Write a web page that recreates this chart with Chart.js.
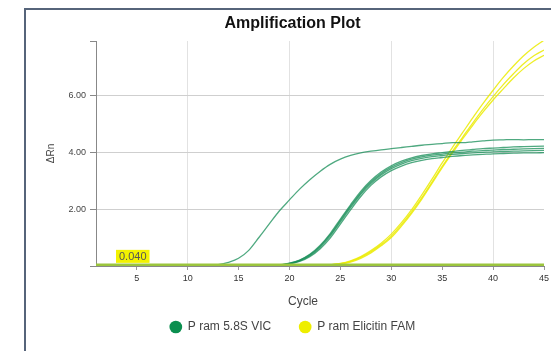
<!DOCTYPE html>
<html>
<head>
<meta charset="utf-8">
<script src="https://cdn.jsdelivr.net/npm/chart.js@4.4.0/dist/chart.umd.min.js"></script>
<style>
  html, body { margin: 0; padding: 0; background: #fff; overflow: hidden; }
  #frame { position: absolute; left: 24px; top: 8px; width: 600px; height: 400px;
           border-left: 2px solid #56647a; border-top: 2px solid #56647a; }
  #wrap { position: absolute; left: 0; top: 0; width: 540px; height: 341px; }
</style>
</head>
<body>
<div id="frame"><div id="wrap"><canvas id="chart"></canvas></div></div>
<script>
// cycles on the x axis
const cycles = [1, 2, 3, 4, 5, 6, 7, 8, 9, 10, 11, 12, 13, 14, 15, 16, 17, 18, 19, 20,
  21, 22, 23, 24, 25, 26, 27, 28, 29, 30, 31, 32, 33, 34, 35, 36, 37, 38, 39, 40,
  41, 42, 43, 44, 45];

// P ram 5.8S VIC wells
const vicEarly = [0.01, 0.01, 0.00, 0.01, 0.01, 0.00, 0.01, 0.01, 0.01, 0.01, 0.01,
  0.02, 0.05, 0.13, 0.27, 0.55, 1.00, 1.47, 1.93, 2.32, 2.70, 3.03,
  3.32, 3.57, 3.75, 3.88, 3.97, 4.03, 4.08, 4.12, 4.16, 4.20, 4.24,
  4.27, 4.30, 4.33, 4.33, 4.36, 4.39, 4.42, 4.43, 4.44, 4.43, 4.44, 4.44];
const vicMain1 = [0.01, 0.01, 0.01, 0.00, 0.01, 0.01, 0.01, 0.00, 0.01, 0.01, 0.01, 0.01, 0.01, 0.01, 0.01, 0.01, 0.02, 0.02,
  0.04, 0.10, 0.21, 0.41, 0.72, 1.14, 1.65, 2.15, 2.62, 3.00, 3.30, 3.52, 3.68, 3.80, 3.88, 3.94,
  3.98, 4.02, 4.06, 4.09, 4.12, 4.14, 4.16, 4.18, 4.19, 4.20, 4.21];
const vicMain2 = [0.01, 0.00, 0.01, 0.01, 0.01, 0.00, 0.01, 0.01, 0.01, 0.01, 0.00, 0.01, 0.01, 0.01, 0.01, 0.01, 0.01, 0.02,
  0.03, 0.09, 0.20, 0.39, 0.69, 1.10, 1.60, 2.10, 2.57, 2.95, 3.25, 3.47, 3.63, 3.75, 3.83, 3.89,
  3.93, 3.97, 4.00, 4.03, 4.05, 4.07, 4.09, 4.10, 4.11, 4.12, 4.13];
const vicMain3 = [0.00, 0.01, 0.01, 0.01, 0.00, 0.01, 0.01, 0.01, 0.00, 0.01, 0.01, 0.01, 0.01, 0.00, 0.01, 0.01, 0.01, 0.01,
  0.03, 0.08, 0.18, 0.36, 0.65, 1.05, 1.55, 2.05, 2.52, 2.90, 3.20, 3.42, 3.58, 3.70, 3.78, 3.84,
  3.88, 3.92, 3.95, 3.97, 3.99, 4.01, 4.02, 4.03, 4.04, 4.05, 4.06];
const vicMain4 = [0.01, 0.01, 0.00, 0.01, 0.01, 0.01, 0.00, 0.01, 0.01, 0.01, 0.01, 0.00, 0.01, 0.01, 0.01, 0.01, 0.01, 0.01,
  0.02, 0.07, 0.16, 0.33, 0.60, 0.98, 1.47, 1.97, 2.44, 2.83, 3.13, 3.35, 3.51, 3.63, 3.71, 3.77,
  3.81, 3.85, 3.88, 3.90, 3.92, 3.94, 3.95, 3.96, 3.97, 3.97, 3.98];

// P ram Elicitin FAM wells
const fam1 = [0.01, 0.00, 0.01, 0.01, 0.00, 0.01, 0.01, 0.01, 0.00, 0.01, 0.01, 0.01, 0.01, 0.00, 0.01, 0.01, 0.01, 0.01, 0.01, 0.01, 0.01, 0.01,
  0.02, 0.05, 0.09, 0.18, 0.33, 0.54, 0.80, 1.12, 1.52, 1.98, 2.50, 3.05, 3.62, 4.16, 4.68, 5.20,
  5.70, 6.17, 6.62, 7.02, 7.38, 7.68, 7.93];
const fam2 = [0.00, 0.01, 0.01, 0.00, 0.01, 0.01, 0.01, 0.00, 0.01, 0.01, 0.01, 0.00, 0.01, 0.01, 0.01, 0.01, 0.00, 0.01, 0.01, 0.01, 0.01, 0.01,
  0.02, 0.04, 0.08, 0.16, 0.30, 0.50, 0.75, 1.05, 1.45, 1.90, 2.40, 2.95, 3.50, 4.02, 4.52, 5.02,
  5.50, 5.95, 6.37, 6.75, 7.10, 7.38, 7.58];
const fam3 = [0.01, 0.01, 0.00, 0.01, 0.01, 0.00, 0.01, 0.01, 0.01, 0.01, 0.00, 0.01, 0.01, 0.01, 0.00, 0.01, 0.01, 0.01, 0.01, 0.01, 0.00, 0.01,
  0.02, 0.04, 0.07, 0.14, 0.27, 0.46, 0.71, 1.00, 1.40, 1.85, 2.35, 2.90, 3.45, 3.97, 4.46, 4.94,
  5.40, 5.83, 6.22, 6.60, 6.93, 7.20, 7.40];

const legendNames = ['P ram 5.8S VIC', 'P ram Elicitin FAM'];
const legendColors = ['#0b8f4f', '#eeee00'];
const xTickValues = [5, 10, 15, 20, 25, 30, 35, 40, 45];
const yTickValues = [2, 4, 6];
const yMax = 7.9;
const thresholdValue = 0.04;
const thresholdLabel = '0.040';

const vicColor = 'rgba(20, 140, 85, 0.75)';
const famColor = 'rgba(235, 235, 0, 0.85)';

function lineSet(label, data, color) {
    return {
        label: label,
        data: data,
        borderColor: color,
        backgroundColor: color,
        borderWidth: 1.3,
        pointRadius: 0,
        cubicInterpolationMode: 'monotone',
        fill: false
    };
}

const datasets = [
    lineSet(legendNames[0], vicEarly, vicColor),
    lineSet(legendNames[0], vicMain1, vicColor),
    lineSet(legendNames[0], vicMain2, vicColor),
    lineSet(legendNames[0], vicMain3, vicColor),
    lineSet(legendNames[0], vicMain4, vicColor),
    lineSet(legendNames[1], fam1, famColor),
    lineSet(legendNames[1], fam2, famColor),
    lineSet(legendNames[1], fam3, famColor)
];

// threshold line, its label and the x axis title
const extrasPlugin = {
    id: 'extras',
    afterDatasetsDraw(chart) {
        const ctx = chart.ctx;
        const area = chart.chartArea;
        const yPix = chart.scales.y.getPixelForValue(thresholdValue);

        ctx.save();
        ctx.strokeStyle = '#9bc53d';
        ctx.lineWidth = 2.5;
        ctx.beginPath();
        ctx.moveTo(area.left, yPix);
        ctx.lineTo(area.right, yPix);
        ctx.stroke();

        ctx.font = "11px 'Liberation Sans', Arial, sans-serif";
        const w = ctx.measureText(thresholdLabel).width + 6;
        const boxLeft = area.left + 20;
        const boxTop = yPix - 15;
        ctx.fillStyle = '#f2f200';
        ctx.fillRect(boxLeft, boxTop, w, 13);
        ctx.fillStyle = '#555';
        ctx.textBaseline = 'middle';
        ctx.textAlign = 'left';
        ctx.fillText(thresholdLabel, boxLeft + 3, boxTop + 7);

        ctx.font = "12px 'Liberation Sans', Arial, sans-serif";
        ctx.fillStyle = '#444';
        ctx.textAlign = 'center';
        ctx.fillText('Cycle', 277, 292);
        ctx.restore();
    }
};

Chart.defaults.font.family = "'Liberation Sans', Arial, sans-serif";
Chart.defaults.color = '#333';

new Chart(document.getElementById('chart'), {
    type: 'line',
    data: { labels: cycles, datasets: datasets },
    plugins: [extrasPlugin],
    options: {
        responsive: true,
        maintainAspectRatio: false,
        animation: false,
        layout: { padding: { left: 15, right: 22, top: 0, bottom: 8 } },
        plugins: {
            title: {
                display: true,
                text: 'Amplification Plot',
                color: '#111',
                font: { size: 16, weight: 'bold' },
                padding: { top: 4.4, bottom: 7.4 }
            },
            legend: {
                position: 'bottom',
                labels: {
                    usePointStyle: true,
                    boxWidth: 12,
                    boxHeight: 9,
                    padding: 28,
                    color: '#444',
                    font: { size: 12 },
                    generateLabels: () => legendNames.map((name, i) => ({
                        text: name,
                        fillStyle: legendColors[i],
                        strokeStyle: legendColors[i],
                        fontColor: '#444',
                        lineWidth: 0,
                        pointStyle: 'circle',
                        hidden: false,
                        datasetIndex: i === 0 ? 0 : 5
                    }))
                }
            },
            tooltip: { enabled: false }
        },
        scales: {
            x: {
                type: 'linear',
                min: 1,
                max: 45,
                afterBuildTicks: s => { s.ticks = xTickValues.map(v => ({ value: v })); },
                afterFit: s => { s.height = 27; },
                ticks: { font: { size: 9 }, color: '#333', padding: 3, maxRotation: 0 },
                grid: {
                    color: c => (c.tick && c.tick.value % 10 === 0) ? '#e2e2e2' : 'rgba(0,0,0,0)',
                    tickColor: '#999',
                    tickLength: 4
                },
                border: { color: '#888' }
            },
            y: {
                min: 0,
                max: yMax,
                afterBuildTicks: s => { s.ticks = [0, ...yTickValues, yMax].map(v => ({ value: v })); },
                afterFit: s => { s.width = 55; },
                ticks: {
                    font: { size: 9 },
                    color: '#444',
                    padding: 4,
                    callback: v => yTickValues.includes(v) ? v.toFixed(2) : ''
                },
                grid: {
                    color: c => (c.tick && yTickValues.includes(c.tick.value)) ? '#cfcfcf' : 'rgba(0,0,0,0)',
                    tickColor: '#888',
                    tickLength: 6
                },
                border: { color: '#888' },
                title: {
                    display: true,
                    text: 'ΔRn',
                    color: '#444',
                    font: { size: 10 },
                    padding: { top: 4.5, bottom: 0 }
                }
            }
        }
    }
});
</script>
</body>
</html>
